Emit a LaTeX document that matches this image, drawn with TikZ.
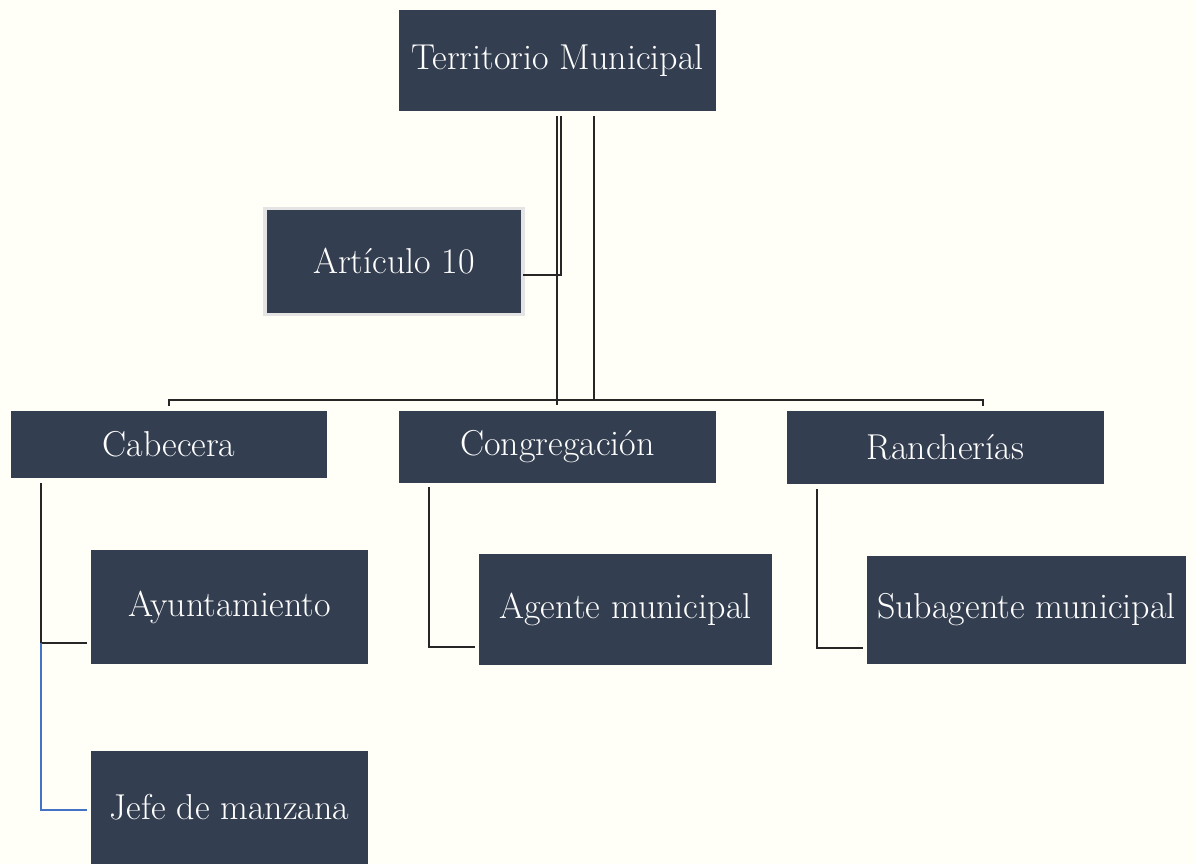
\documentclass[tikz,border=0pt]{standalone}
\usepackage{tikz}
\usetikzlibrary{calc}
\definecolor{boxfill}{RGB}{51,62,80}
\definecolor{paper}{RGB}{255,255,247}
\definecolor{rimgray}{RGB}{228,228,228}
\definecolor{linkblue}{RGB}{68,114,196}

\begin{document}
\begin{tikzpicture}[x=1pt, y=-1pt,
        box/.style={fill=boxfill, text=white, inner sep=0pt, outer sep=0pt,
            font=\fontsize{36}{42}\selectfont},
        conn/.style={draw=black!85, line width=1.5pt},
        blueconn/.style={draw=linkblue, line width=2pt}]
        \fill[paper] (0,0) rectangle (1196,864);
        \useasboundingbox (0,0) rectangle (1196,864);

        \node[box, minimum width=317, minimum height=101] (terr) at (557.5,60.5) {Territorio Municipal};
        \node[box, draw=rimgray, line width=3.5pt, minimum width=258, minimum height=106] (art) at (394,261.5) {Artículo 10};
        \node[box, minimum width=316, minimum height=67] (cab) at (169,444.5) {Cabecera};
        \node[box, minimum width=317, minimum height=72] (cong) at (557.5,447) {Congregación};
        \node[box, minimum width=317, minimum height=73] (ranch) at (945.5,447.5) {Rancherías};
        \node[box, minimum width=277, minimum height=114] (ayu) at (229.5,607) {Ayuntamiento};
        \node[box, minimum width=277, minimum height=113] (jefe) at (229.5,807.5) {Jefe de manzana};
        \node[box, minimum width=293, minimum height=111] (agen) at (625.5,609.5) {Agente municipal};
        \node[box, minimum width=319, minimum height=108] (subag) at (1026.5,610) {Subagente municipal};

        \draw[conn] ($(terr.south)+(-0.5,5)$) -- ($(cong.north)+(-0.5,-6)$);
        \draw[conn] ($(terr.south)+(3.5,5)$) |- ($(art.east)+(0,13.5)$);
        \draw[conn] ($(terr.south)+(36.5,5)$) |- ($(cong.north)+(-0.5,-11)$);
        \draw[conn] ($(cab.north)+(0,-5)$) |- ($(cong.north)+(0,-11)$) -| ($(ranch.north)+(37.5,-5)$);

        \draw[conn] ($(cab.south)+(-128,5)$) |- ($(ayu.west)+(-4,36)$);
        \draw[blueconn] ($(ayu.west)+(-50,36)$) |- ($(jefe.west)+(-4,2.5)$);
        \draw[conn] ($(cong.south)+(-128.5,4)$) |- ($(agen.west)+(-4,37.5)$);
        \draw[conn] ($(ranch.south)+(-128.5,5)$) |- ($(subag.west)+(-4,38)$);

    \end{tikzpicture}
\end{document}
